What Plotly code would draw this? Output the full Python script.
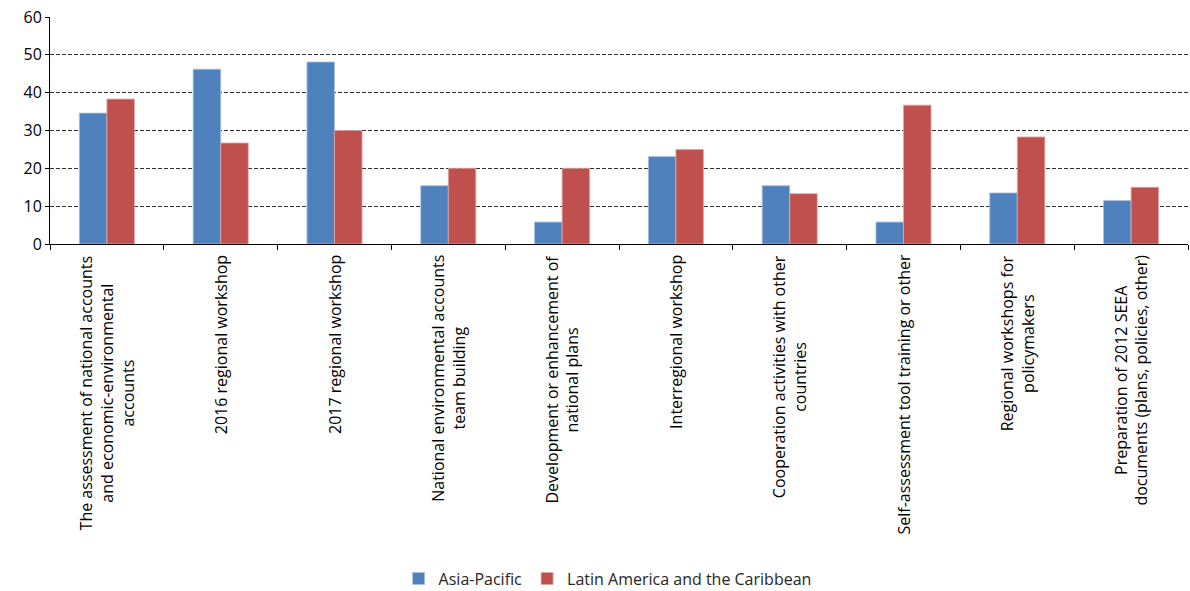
import plotly.graph_objects as go

categories = [
    "The assessment of national accounts<br>and economic-environmental<br>accounts",
    "2016 regional workshop",
    "2017 regional workshop",
    "National environmental accounts<br>team building",
    "Development or enhancement of<br>national plans",
    "Interregional workshop",
    "Cooperation activities with other<br>countries",
    "Self-assessment tool training or other",
    "Regional workshops for<br>policymakers",
    "Preparation of 2012 SEEA<br>documents (plans, policies, other)",
]
asia_pacific = [34.6, 46.2, 48.1, 15.4, 5.8, 23.1, 15.4, 5.8, 13.5, 11.5]
latin_america = [38.3, 26.7, 30.0, 20.0, 20.0, 25.0, 13.3, 36.7, 28.3, 15.0]
y_ticks = [0, 10, 20, 30, 40, 50, 60]

FONT = "Open Sans"
x_idx = list(range(len(categories)))

fig = go.Figure()
fig.add_trace(go.Bar(
    x=x_idx, y=asia_pacific, name="Asia-Pacific",
    marker=dict(color="#4F81BD", line=dict(color="#A9C0E0", width=0.8)),
))
fig.add_trace(go.Bar(
    x=x_idx, y=latin_america, name="Latin America and the Caribbean",
    marker=dict(color="#C0504D", line=dict(color="#E0A8A6", width=0.8)),
))

for i, lab in enumerate(categories):
    fig.add_annotation(
        x=i, y=0, xref="x", yref="paper", yanchor="top", xanchor="center",
        yshift=-9, text=lab, textangle=-90, showarrow=False, align="center",
        font=dict(family=FONT, size=16, color="#000000"),
    )

fig.update_layout(
    width=1190, height=591,
    margin=dict(l=50, r=2, t=17, b=347, autoexpand=False),
    paper_bgcolor="white", plot_bgcolor="white",
    barmode="group", bargap=0.516, bargroupgap=0,
    font=dict(family=FONT, size=16, color="#000000"),
    legend=dict(
        orientation="h", x=0.49, xanchor="center",
        yref="container", y=0.021, yanchor="middle",
        font=dict(family=FONT, size=16, color="#262626"),
        itemwidth=30, traceorder="normal",
    ),
    showlegend=True,
)
fig.update_xaxes(
    type="linear", range=[-0.5, len(categories) - 0.5],
    tickvals=[i - 0.5 for i in range(len(categories) + 1)],
    showticklabels=False, ticks="outside", ticklen=5, tickcolor="#000000",
    showline=True, linecolor="#000000", linewidth=1, showgrid=False,
    zeroline=False,
)
fig.update_yaxes(
    range=[0, 60], tickvals=y_ticks, ticks="outside", ticklen=4,
    tickcolor="#000000", showline=True, linecolor="#000000", linewidth=1,
    showgrid=True, gridcolor="#303030", gridwidth=1, griddash="4px,2px",
    zeroline=False, tickfont=dict(family=FONT, size=16, color="#000000"),
)

fig.write_html("out.html")
